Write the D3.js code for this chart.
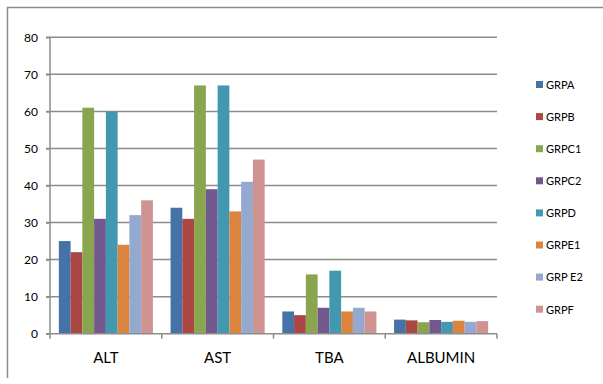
<!DOCTYPE html>
<html>
<head>
<meta charset="utf-8">
<script src="https://cdn.jsdelivr.net/npm/d3@7"></script>
<style>
  body { margin: 0; background: #fff; }
  text { font-family: Lato, 'Open Sans', sans-serif; fill: #000; }
</style>
</head>
<body>
<script>
const categories = ['ALT', 'AST', 'TBA', 'ALBUMIN'];
const groups = ['GRPA', 'GRPB', 'GRPC1', 'GRPC2', 'GRPD', 'GRPE1', 'GRP E2', 'GRPF'];
const colors = ['#4572a7', '#aa4643', '#89a54e', '#71588f', '#4198af', '#db843d', '#93a9cf', '#d19392'];
// one array per group, values for ALT, AST, TBA, ALBUMIN
const grpA = [25, 34, 6, 3.8];
const grpB = [22, 31, 5, 3.6];
const grpC1 = [61, 67, 16, 3.1];
const grpC2 = [31, 39, 7, 3.7];
const grpD = [60, 67, 17, 3.2];
const grpE1 = [24, 33, 6, 3.5];
const grpE2 = [32, 41, 7, 3.2];
const grpF = [36, 47, 6, 3.4];
const yTicks = [0, 10, 20, 30, 40, 50, 60, 70, 80];

const series = [grpA, grpB, grpC1, grpC2, grpD, grpE1, grpE2, grpF];

const W = 603, H = 384;
const plot = { left: 50, right: 497, top: 37.3, bottom: 333.7 };

const svg = d3.select('body').append('svg')
  .attr('width', W)
  .attr('height', H);

// chart border (cropped at right and bottom)
svg.append('path')
  .attr('d', `M7.5,378 V7.5 H${W}`)
  .attr('fill', 'none')
  .attr('stroke', '#8c8c8c')
  .attr('stroke-width', 1.5);

const x0 = d3.scaleBand()
  .domain(categories)
  .range([plot.left, plot.right]);

const x1 = d3.scaleBand()
  .domain(groups)
  .range([0, x0.bandwidth()])
  .paddingOuter(0.75)
  .paddingInner(0);

const y = d3.scaleLinear()
  .domain([0, 80])
  .range([plot.bottom, plot.top]);

// gridlines
svg.append('g')
  .selectAll('line')
  .data(yTicks.filter(d => d > 0))
  .join('line')
  .attr('x1', plot.left - 4)
  .attr('x2', plot.right)
  .attr('y1', d => y(d))
  .attr('y2', d => y(d))
  .attr('stroke', '#8c8c8c')
  .attr('stroke-width', 1.5);

// bars
const catG = svg.append('g')
  .selectAll('g')
  .data(categories)
  .join('g')
  .attr('transform', d => `translate(${x0(d)},0)`);

catG.selectAll('rect')
  .data((c, ci) => groups.map((g, gi) => ({ g, gi, v: series[gi][ci] })))
  .join('rect')
  .attr('x', d => x1(d.g))
  .attr('width', x1.bandwidth())
  .attr('y', d => y(d.v))
  .attr('height', d => y(0) - y(d.v))
  .attr('fill', d => colors[d.gi]);

// y axis
const yAxis = d3.axisLeft(y)
  .tickValues(yTicks)
  .tickSize(4)
  .tickPadding(8);

const yg = svg.append('g')
  .attr('transform', `translate(${plot.left},0)`)
  .call(yAxis);
yg.select('.domain').remove();
yg.selectAll('line').attr('stroke', '#8c8c8c').attr('stroke-width', 1.5);
yg.selectAll('text').style('font-size', '12px').style('fill', '#000');
yg.append('line')
  .attr('y1', plot.top)
  .attr('y2', plot.bottom)
  .attr('stroke', '#8c8c8c')
  .attr('stroke-width', 1.5);

// x axis
const xg = svg.append('g')
  .attr('transform', `translate(0,${plot.bottom})`);
xg.append('line')
  .attr('x1', plot.left - 4)
  .attr('x2', plot.right)
  .attr('stroke', '#8c8c8c')
  .attr('stroke-width', 1.5);
xg.selectAll('line.tk')
  .data(categories.map(c => x0(c)).concat([plot.right]))
  .join('line')
  .attr('class', 'tk')
  .attr('x1', d => d)
  .attr('x2', d => d)
  .attr('y1', 0)
  .attr('y2', 5)
  .attr('stroke', '#8c8c8c')
  .attr('stroke-width', 1.5);
xg.selectAll('text')
  .data(categories)
  .join('text')
  .attr('x', d => x0(d) + x0.bandwidth() / 2)
  .attr('y', 29)
  .attr('text-anchor', 'middle')
  .style('font-size', '15px')
  .text(d => d);

// legend
const legend = svg.append('g')
  .selectAll('g')
  .data(groups)
  .join('g')
  .attr('transform', (d, i) => `translate(536,${85 + i * 32.1})`);
legend.append('rect')
  .attr('x', 0)
  .attr('y', -4)
  .attr('width', 7)
  .attr('height', 7)
  .attr('fill', (d, i) => colors[i]);
legend.append('text')
  .attr('x', 10)
  .attr('y', 0)
  .attr('dy', '0.35em')
  .style('font-size', '11px')
  .text(d => d);
</script>
</body>
</html>
